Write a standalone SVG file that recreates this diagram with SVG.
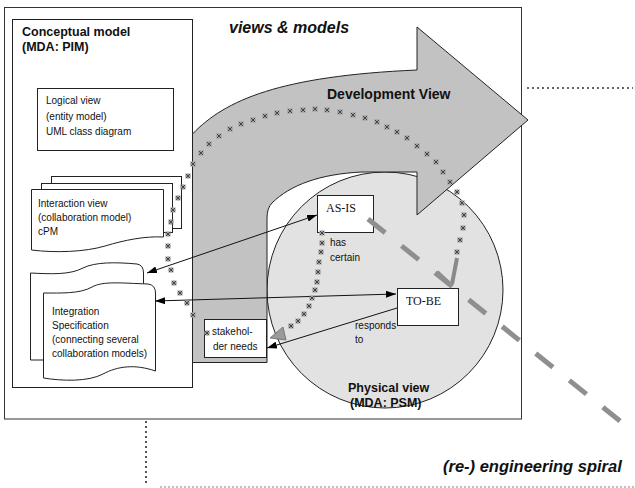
<svg xmlns="http://www.w3.org/2000/svg" width="635" height="488" viewBox="0 0 635 488">
<defs>
<style>
.box{fill:#fff;stroke:#222;stroke-width:1}
.t{font-family:"Liberation Sans",Arial,sans-serif;font-size:10px;fill:#111}
.tb{font-family:"Liberation Sans",Arial,sans-serif;font-weight:bold;fill:#111}
.ts{font-family:"Liberation Serif","Times New Roman",serif;font-size:12px;fill:#111}
.con{fill:none;stroke:#111;stroke-width:1}
.dots{fill:none;stroke:none;marker-start:url(#sp);marker-mid:url(#sp);marker-end:url(#sp)}
</style>
<marker id="ah" viewBox="0 0 10 7" refX="10" refY="3.5" markerWidth="10" markerHeight="7" markerUnits="userSpaceOnUse" orient="auto-start-reverse"><path d="M0,0 L10,3.5 L0,7 Z" fill="#000"/></marker>
<marker id="sp" viewBox="-3.5 -3.5 7 7" refX="0" refY="0" markerWidth="7" markerHeight="7" markerUnits="userSpaceOnUse"><circle r="2.8" fill="#a0a0a0"/><path d="M-2.2,-2.2 L2.2,2.2 M2.2,-2.2 L-2.2,2.2" stroke="#444" stroke-width="1"/></marker>
</defs>
<rect width="635" height="488" fill="#fff"/>

<g id="frame">
<rect x="4.5" y="7.5" width="517" height="411.5" fill="#fff" stroke="#333" stroke-width="1"/>
<line x1="527" y1="88" x2="633" y2="88" stroke="#666" stroke-width="2" stroke-dasharray="2 3"/>
<line x1="146" y1="421" x2="146" y2="486" stroke="#555" stroke-width="2" stroke-dasharray="2 3"/>
<line x1="160" y1="487" x2="635" y2="487" stroke="#aaa" stroke-width="1.5" stroke-dasharray="2 2"/>
</g>

<g id="conceptual-model">
<rect class="box" x="12.5" y="19.5" width="180" height="368"/>
<text class="tb" font-size="12.5" x="22" y="36">Conceptual model</text>
<text class="tb" font-size="12.5" x="22" y="51">(MDA: PIM)</text>
</g>

<g id="logical-view">
<rect class="box" x="37.5" y="88.5" width="136" height="62"/>
<text class="t" x="46" y="104">Logical view</text>
<text class="t" x="46" y="120">(entity model)</text>
<text class="t" x="46" y="135">UML class diagram</text>
</g>

<g id="interaction-view">
<rect class="box" x="51.5" y="176.5" width="130" height="52"/>
<rect class="box" x="41.5" y="183.5" width="131" height="49"/>
<path class="box" d="M31.5,189.5 H163.5 V237 C145,236 125,240 105,246 C85,252 55,253 31.5,250 Z"/>
<text class="t" x="38" y="207">Interaction view</text>
<text class="t" x="38" y="221">(collaboration model)</text>
<text class="t" x="38" y="235">cPM</text>
</g>

<g id="integration-spec">
<path class="box" d="M30.5,273 C50,274 70,275 83,268 C95,262 115,262 137,264 Q143.5,265 143.5,273 V360 H30.5 Z"/>
<path class="box" d="M43.5,293 C60,293 80,294 92,287 C103,281 120,283 148,284 Q155.5,285 155.5,293 V371 C135,364 118,366 103,374 C88,382 62,381 43.5,378 Z"/>
<text class="t" x="52" y="315">Integration</text>
<text class="t" x="52" y="329">Specification</text>
<text class="t" x="52" y="343">(connecting several</text>
<text class="t" x="52" y="357">collaboration models)</text>
</g>

<g id="physical-view">
<circle cx="385" cy="290" r="118" fill="#e2e2e2" stroke="#222" stroke-width="1"/>
<text class="tb" font-size="12.5" x="348" y="392">Physical view</text>
<text class="tb" font-size="12.5" x="350" y="407">(MDA: PSM)</text>
</g>

<g id="development-view">
<path d="M192.5,134 C225,100 280,76 417,70 L417,27 L528,120 L417,215 L417,172 L362,172 C320,174 290,185 272,203 Q267,208 267,218 L267,362.5 L192.5,362.5 Z" fill="#c2c2c2" stroke="#222" stroke-width="1"/>
<text class="tb" font-size="14" x="327" y="99">Development View</text>
</g>

<text class="tb" font-size="16" font-style="italic" x="229" y="33">views &amp; models</text>
<text class="tb" font-size="16.5" font-style="italic" x="443" y="472">(re-) engineering spiral</text>

<g id="as-is">
<rect class="box" x="317.5" y="195.5" width="56" height="37"/>
<text class="ts" x="326" y="212">AS-IS</text>
</g>

<g id="to-be">
<rect class="box" x="397.5" y="288.5" width="61" height="37"/>
<text class="ts" x="406" y="305">TO-BE</text>
</g>

<g id="stakeholder-needs">
<rect class="box" x="204.5" y="319.5" width="62" height="38"/>
<text class="t" x="212" y="335">stakehol-</text>
<text class="t" x="213" y="350">der needs</text>
</g>

<g id="connectors">
<line class="con" x1="147" y1="273" x2="317" y2="215" marker-start="url(#ah)" marker-end="url(#ah)"/>
<line class="con" x1="155" y1="301" x2="396" y2="294" marker-start="url(#ah)" marker-end="url(#ah)"/>
<line class="con" x1="397" y1="308" x2="267" y2="348" marker-end="url(#ah)"/>
<text class="t" x="330" y="246">has</text>
<text class="t" x="330" y="261">certain</text>
<text class="t" x="355" y="329">responds</text>
<text class="t" x="355" y="343">to</text>
<polyline class="dots" points="207,333 193,315 187,303 180,293 174,283 171,270 168,259 168,246 168,234 171,222 173,210 178,198 183,187 188,176 193,164 201,153 209,144 219,136 230,129 241,124 253,120 265,116 277,113 290,111 303,110 315,109 327,110 340,112 353,115 365,118 377,122 387,127 397,132 407,138 417,146 427,154 436,162 443,172 450,182 457,192 462,203 464,215 463,228 460,240 457,252"/>
<path d="M457,258 L452,284 M437,272 L452,286" stroke="#8a8a8a" stroke-width="4" fill="none"/>
<polyline class="dots" points="322,233 322,243 321,252 319,262 318,272 317,282 315,290 312,298 309,306 304,314 298,321 291,326"/>
<polygon points="270,338 283,327 286,340" fill="#9a9a9a" stroke="#666" stroke-width="0.8"/>
<line x1="368" y1="219" x2="625" y2="425" stroke="#8f8f8f" stroke-width="5" stroke-dasharray="22 21"/>
</g>
</svg>
